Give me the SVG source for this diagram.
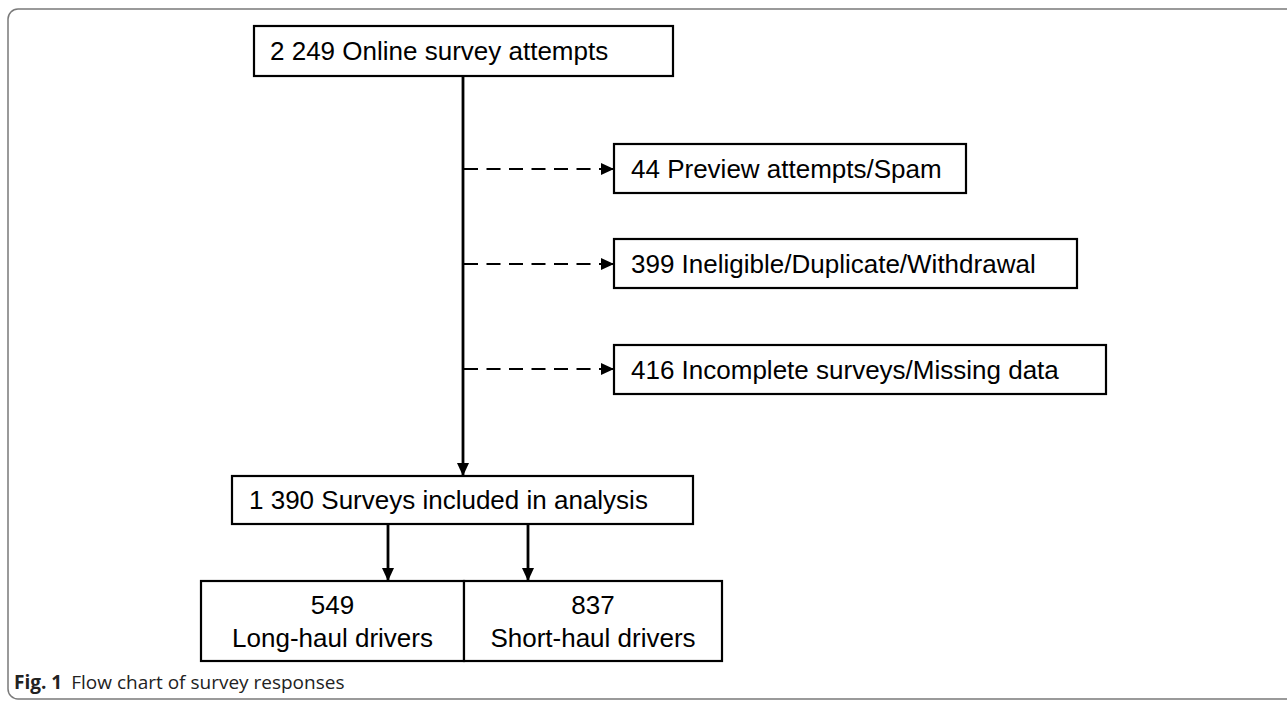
<svg xmlns="http://www.w3.org/2000/svg" width="1287" height="701" viewBox="0 0 1287 701">
<style>
.box{fill:#fff;stroke:#000;stroke-width:2.2}
.t{font-family:"Liberation Sans",Arial,sans-serif;font-size:26px;fill:#000}
.solid{stroke:#000;stroke-width:2.8;fill:none}
.dash{stroke:#000;stroke-width:2.2;fill:none;stroke-dasharray:14 8.5}
.cap{font-family:"Open Sans","Noto Sans",sans-serif;font-size:19px;fill:#222}
</style>
<defs>
<marker id="ah" viewBox="0 0 13 12" refX="13" refY="6" markerWidth="13" markerHeight="12" markerUnits="userSpaceOnUse" orient="auto">
<path d="M0,0 L13,6 L0,12 Z" fill="#000"/>
</marker>
</defs>
<rect x="0" y="0" width="1287" height="701" fill="#fff"/>
<rect x="8" y="9" width="1300" height="690" rx="10" ry="10" fill="none" stroke="#7a7a7a" stroke-width="1.5"/>
<g id="connectors">
<line class="solid" x1="463" y1="76" x2="463" y2="476" marker-end="url(#ah)"/>
<line class="dash" x1="464" y1="169" x2="614" y2="169" marker-end="url(#ah)"/>
<line class="dash" x1="464" y1="264" x2="614" y2="264" marker-end="url(#ah)"/>
<line class="dash" x1="464" y1="369" x2="614" y2="369" marker-end="url(#ah)"/>
<line class="solid" x1="388" y1="524" x2="388" y2="581" marker-end="url(#ah)"/>
<line class="solid" x1="528" y1="524" x2="528" y2="581" marker-end="url(#ah)"/>
</g>
<g id="n_total">
<rect class="box" x="254" y="26" width="419" height="50"/>
<text class="t" x="270" y="60">2 249 Online survey attempts</text>
</g>
<g id="n_preview">
<rect class="box" x="614" y="144" width="352" height="49"/>
<text class="t" x="631" y="178">44 Preview attempts/Spam</text>
</g>
<g id="n_inelig">
<rect class="box" x="614" y="239" width="463" height="49"/>
<text class="t" x="631" y="273">399 Ineligible/Duplicate/Withdrawal</text>
</g>
<g id="n_incomplete">
<rect class="box" x="614" y="345" width="492" height="49"/>
<text class="t" x="631" y="379">416 Incomplete surveys/Missing data</text>
</g>
<g id="n_included">
<rect class="box" x="232" y="476" width="461" height="48"/>
<text class="t" x="249" y="509">1 390 Surveys included in analysis</text>
</g>
<g id="n_long">
<rect class="box" x="201" y="581" width="263" height="80"/>
<text class="t" x="332.5" y="614" text-anchor="middle">549</text>
<text class="t" x="332.5" y="647" text-anchor="middle">Long-haul drivers</text>
</g>
<g id="n_short">
<rect class="box" x="464" y="581" width="258" height="80"/>
<text class="t" x="593" y="614" text-anchor="middle">837</text>
<text class="t" x="593" y="647" text-anchor="middle">Short-haul drivers</text>
</g>
<text class="cap" x="14" y="689"><tspan font-weight="bold">Fig. 1</tspan><tspan dx="9">Flow chart of survey responses</tspan></text>
</svg>
